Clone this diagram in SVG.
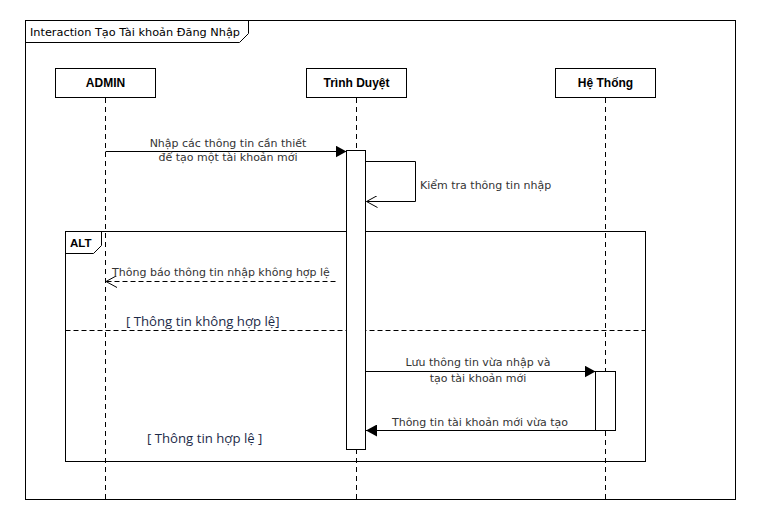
<svg xmlns="http://www.w3.org/2000/svg" width="763" height="525" viewBox="0 0 763 525">
<style>
.frame{fill:none;stroke:#000;stroke-width:1}
.box{fill:#fff;stroke:#000;stroke-width:1}
.life{stroke:#000;stroke-width:1;stroke-dasharray:5,4;fill:none}
.msg{stroke:#000;stroke-width:1;fill:none}
.dash{stroke:#000;stroke-width:1;fill:none;stroke-dasharray:5,3}
.lbl{font-family:"DejaVu Sans","Liberation Sans",sans-serif;font-size:11px;fill:#333}
.name{font-family:"Liberation Sans",Arial,sans-serif;font-size:12px;font-weight:bold;fill:#000}
.title{font-family:"DejaVu Sans","Liberation Sans",sans-serif;font-size:11.3px;fill:#000}
.guard{font-family:"Open Sans","Liberation Sans",sans-serif;font-size:13.2px;fill:#1c2a48}
</style>
<defs>
<marker id="fill" markerWidth="12" markerHeight="12" refX="11" refY="6" orient="auto" markerUnits="userSpaceOnUse">
<path d="M0,0 L11,6 L0,12 Z" fill="#000"/>
</marker>
<marker id="open" markerWidth="12" markerHeight="12" refX="11" refY="6" orient="auto" markerUnits="userSpaceOnUse">
<path d="M0,0 L11,6 L0,12" fill="none" stroke="#000"/>
</marker>
</defs>
<rect width="763" height="525" fill="#fff"/>
<g id="frame">
<rect class="frame" x="25.5" y="20.5" width="710" height="479"/>
<path class="frame" d="M25.5,42.5 L239.5,42.5 L248.5,33.5 L248.5,20.5"/>
<text class="title" x="30" y="35.5">Interaction Tạo Tài khoản Đăng Nhập</text>
</g>
<g id="lifelines">
<line class="life" x1="105.5" y1="98" x2="105.5" y2="499"/>
<line class="life" x1="356.5" y1="98" x2="356.5" y2="499"/>
<line class="life" x1="605.5" y1="98" x2="605.5" y2="499"/>
</g>
<g id="admin">
<rect class="box" x="55.5" y="68.5" width="100" height="29"/>
<text class="name" x="105.5" y="87" text-anchor="middle">ADMIN</text>
</g>
<g id="trinhduyet">
<rect class="box" x="306.5" y="68.5" width="100" height="29"/>
<text class="name" x="356.5" y="87" text-anchor="middle">Trình Duyệt</text>
</g>
<g id="hethong">
<rect class="box" x="555.5" y="68.5" width="100" height="29"/>
<text class="name" x="605.5" y="87" text-anchor="middle">Hệ Thống</text>
</g>
<g id="alt">
<rect class="frame" x="65.5" y="231.5" width="580" height="230"/>
<path class="frame" d="M65.5,253.5 L93.5,253.5 L101.5,245.5 L101.5,231.5"/>
<text class="name" x="70" y="247" style="font-size:11.5px">ALT</text>
<line class="dash" x1="65.5" y1="330.5" x2="645.5" y2="330.5"/>
<text class="guard" x="126" y="326">[ Thông tin không hợp lệ]</text>
<text class="guard" x="147" y="443">[ Thông tin hợp lệ ]</text>
</g>
<g id="activation-trinhduyet">
<rect class="box" x="346.5" y="150.5" width="19" height="299"/>
</g>
<g id="activation-hethong">
<rect class="box" x="595.5" y="371.5" width="20" height="59"/>
</g>
<g id="connectors">
<line class="msg" x1="105.5" y1="151.5" x2="346.5" y2="151.5" marker-end="url(#fill)"/>
<path class="msg" d="M365.5,161.5 L415.5,161.5 L415.5,201.5 L366.5,201.5" marker-end="url(#open)"/>
<line class="dash" x1="335.5" y1="281.5" x2="106" y2="281.5" marker-end="url(#open)"/>
<line class="msg" x1="365.5" y1="371.5" x2="595.5" y2="371.5" marker-end="url(#fill)"/>
<line class="msg" x1="595.5" y1="430.5" x2="366" y2="430.5" marker-end="url(#fill)"/>
</g>
<g id="labels">
<text class="lbl" x="228" y="147" text-anchor="middle">Nhập các thông tin cần thiết</text>
<text class="lbl" x="228" y="161" text-anchor="middle">để tạo một tài khoản mới</text>
<text class="lbl" x="420" y="189">Kiểm tra thông tin nhập</text>
<text class="lbl" x="221" y="276" text-anchor="middle">Thông báo thông tin nhập không hợp lệ</text>
<text class="lbl" x="478" y="366" text-anchor="middle">Lưu thông tin vừa nhập và</text>
<text class="lbl" x="478" y="382" text-anchor="middle">tạo tài khoản mới</text>
<text class="lbl" x="480" y="426" text-anchor="middle">Thông tin tài khoản mới vừa tạo</text>
</g>
</svg>
